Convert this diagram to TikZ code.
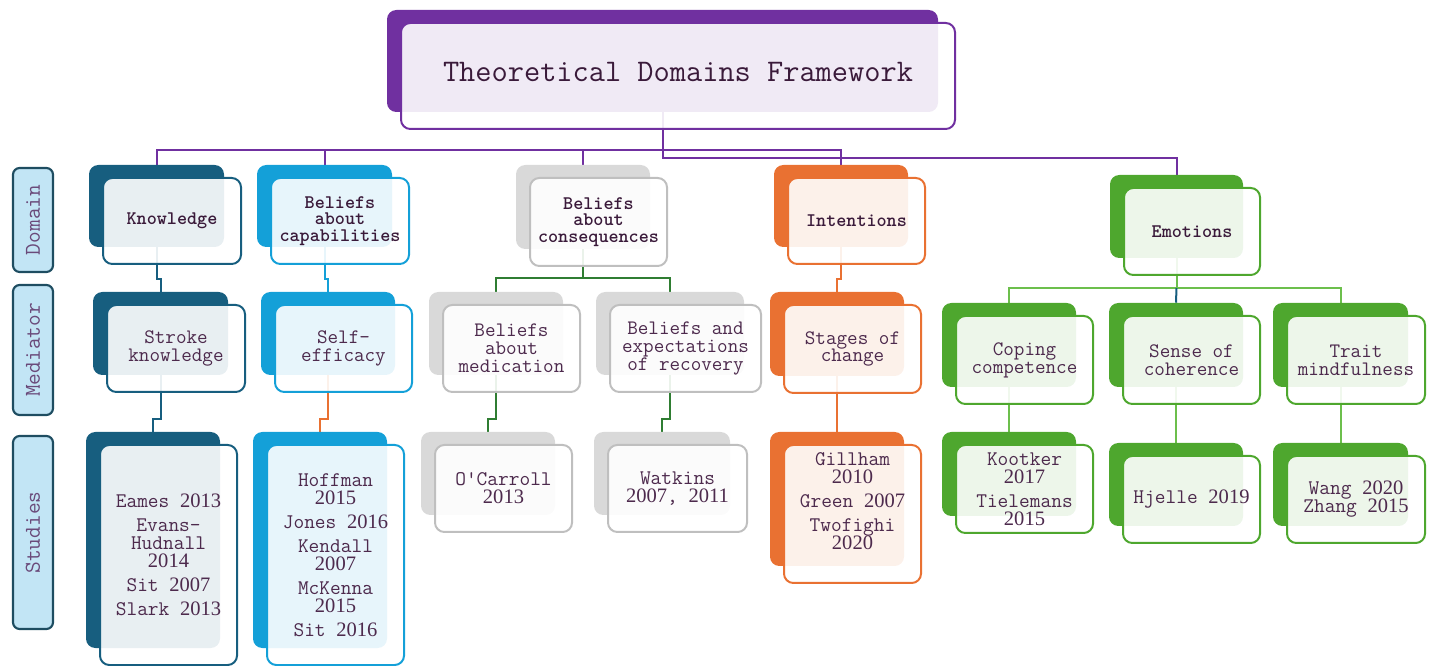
\documentclass[tikz,border=0pt]{standalone}
\usepackage{fontspec}
\newfontfamily\tnr{Liberation Serif}
\usetikzlibrary{calc}
\pgfdeclarelayer{bg}\pgfsetlayers{bg,main}
\definecolor{tdfpurple}{HTML}{7030A0}
\definecolor{kcol}{HTML}{175E7F}
\definecolor{ccol}{HTML}{14A0D8}
\definecolor{gback}{HTML}{D9D9D9}
\definecolor{gline}{HTML}{BFBFBF}
\definecolor{ocol}{HTML}{E97132}
\definecolor{grn}{HTML}{4EA72E}
\definecolor{dgreen}{HTML}{2F7D32}
\definecolor{lgreen}{HTML}{6CBF4C}
\definecolor{txt}{HTML}{4D2A4D}
\definecolor{dtxt}{HTML}{3A1A3A}
\definecolor{sidetxt}{HTML}{6A4A7A}
\definecolor{sidefill}{HTML}{C2E5F5}
\definecolor{sideline}{HTML}{1E4D61}
\newcommand\yr[1]{{\tnr\fontsize{15.4pt}{13.5pt}\selectfont #1}}
% [opts]{name}{back colour}{line colour}{x1}{y1}{x2}{y2}{text}
\newcommand\card[8][]{%
  \node[backbox=#3, minimum width={(#7-#5)*0.75pt}, minimum height={(#8-#6)*0.75pt}] (#2b) at ({(#5+#7)/2},{(#6+#8)/2}) {};
  \node[frontbox=#4, minimum width={(#7-#5+3)*0.75pt}, minimum height={(#8-#6+4)*0.75pt}, #1] (#2) at ({(#5+#7)/2+15.5},{(#6+#8)/2+15})}
\tikzset{
  backbox/.style={draw=none, fill=#1, rounded corners=7pt, inner sep=0pt},
  frontbox/.style={draw=#1, line width=1.5pt, fill=white, fill opacity=0.9, text opacity=1,
    rounded corners=7pt, inner sep=0pt, align=center, text=txt,
    font=\ttfamily\fontsize{14.6pt}{13.5pt}\selectfont},
  domfont/.style={font=\ttfamily\bfseries\fontsize{14.4pt}{12.4pt}\selectfont, text=dtxt},
  medfont/.style={font=\ttfamily\fontsize{15.4pt}{13.4pt}\selectfont},
  stufont/.style={font=\ttfamily\fontsize{15.6pt}{13.5pt}\selectfont},
  conn/.style={line width=1.5pt, draw=#1},
  sidelab/.style={draw=sideline, line width=1.6pt, fill=sidefill, rounded corners=5pt,
    rotate=90, text=sidetxt, font=\ttfamily\fontsize{17pt}{18pt}\selectfont, inner sep=0pt,
    minimum height=30pt}
}
\begin{document}
\lineskiplimit=-20pt
\begin{tikzpicture}[x=0.75pt,y=-0.75pt]
\useasboundingbox (0,0) rectangle (1429,666);
% side labels
\node[sidelab, minimum width={104*0.75pt}] (dom) at (33,220) {Domain};
\node[sidelab, minimum width={130*0.75pt}] (med) at (33,350) {Mediator};
\node[sidelab, minimum width={193*0.75pt}] (stu) at (33,532.5) {Studies};
% title
\card[font=\ttfamily\fontsize{23.6pt}{24pt}\selectfont, text=dtxt]{T}{tdfpurple}{tdfpurple}{387}{10}{938}{112}{Theoretical Domains Framework\rule[-6pt]{0pt}{0pt}};
% domains
\card[domfont]{K}{kcol}{kcol}{89}{165}{224}{247}{Knowledge};
\card[domfont]{BC}{ccol}{ccol}{257}{165}{392}{247}{Beliefs\\about\\capabilities};
\card[domfont]{BQ}{gback}{gline}{516}{165}{650}{249}{Beliefs\\about\\consequences};
\card[domfont]{I}{ocol}{ocol}{774}{165}{908}{247}{Intentions};
\card[domfont]{E}{grn}{grn}{1110}{175}{1243}{258}{Emotions};
% mediators
\card[medfont]{SK}{kcol}{kcol}{93}{292}{228}{375}{Stroke\\knowledge};
\card[medfont]{SE}{ccol}{ccol}{261}{292}{395}{375}{Self-\\efficacy};
\card[medfont]{BM}{gback}{gline}{429}{292}{563}{375}{Beliefs\\about\\medication};
\card[medfont]{BE}{gback}{gline}{596}{292}{744}{375}{Beliefs and\\expectations\\of recovery};
\card[medfont]{SC}{ocol}{ocol}{770}{292}{904}{376}{Stages of\\change};
\card[medfont]{CC}{grn}{grn}{942}{303}{1076}{387}{Coping\\competence};
\card[medfont]{SOC}{grn}{grn}{1109}{303}{1243}{387}{Sense of\\coherence};
\card[medfont]{TM}{grn}{grn}{1273}{303}{1408}{387}{Trait\\mindfulness};
% studies
\card[stufont]{SA}{kcol}{kcol}{86}{432}{220}{648}{Eames \yr{2013}\\[4.5pt]Evans-\\Hudnall\\\yr{2014}\\[4.5pt]Sit \yr{2007}\\[4.5pt]Slark \yr{2013}};
\card[stufont]{SB}{ccol}{ccol}{253}{432}{387}{648}{Hoffman\\\yr{2015}\\[4.5pt]Jones \yr{2016}\\[4.5pt]Kendall\\\yr{2007}\\[4.5pt]McKenna\\\yr{2015}\\[4.5pt]Sit \yr{2016}};
\card[stufont]{SCa}{gback}{gline}{421}{432}{555}{515}{O'Carroll\\\yr{2013}};
\card[stufont]{SD}{gback}{gline}{594}{432}{730}{515}{Watkins\\\yr{2007}, \yr{2011}};
\card[stufont]{SF}{ocol}{ocol}{770}{432}{904}{566}{Gillham\\\yr{2010}\\[4.5pt]Green \yr{2007}\\[4.5pt]Twofighi\\\yr{2020}\\[6pt]\mbox{}};
\card[stufont]{SG}{grn}{grn}{942}{432}{1076}{516}{Kootker\\\yr{2017}\\[4.5pt]Tielemans\\\yr{2015}};
\card[stufont]{SH}{grn}{grn}{1109}{443}{1243}{526}{Hjelle \yr{2019}};
\card[stufont]{SI}{grn}{grn}{1273}{443}{1408}{526}{Wang \yr{2020}\\Zhang \yr{2015}};
% connectors on background layer
\begin{pgfonlayer}{bg}
\draw[conn=tdfpurple] (Tb.center) -- (Tb.center |- 0,158) -| (Eb.north);
\draw[conn=tdfpurple] (Kb.north) -- (Kb.north |- 0,150) -- (Ib.north |- 0,150) -- (Ib.north);
\draw[conn=tdfpurple] (BCb.north) -- (BCb.north |- 0,150);
\draw[conn=tdfpurple] (BQb.north) -- (BQb.north |- 0,150);
\draw[conn=kcol] (Kb.center) |- (SKb.north |- 0,279) -- (SKb.north);
\draw[conn=ccol] (BCb.center) |- (SEb.north |- 0,279) -- (SEb.north);
\draw[conn=dgreen] (BQb.center) -- (BQb.center |- 0,278);
\draw[conn=dgreen] (BMb.north) -- (BMb.north |- 0,278) -- (BEb.north |- 0,278) -- (BEb.north);
\draw[conn=ocol] (Ib.center) |- (SCb.north |- 0,279) -- (SCb.north);
\draw[conn=lgreen] (Eb.center) -- (Eb.center |- 0,288);
\draw[conn=lgreen] (CCb.north) -- (CCb.north |- 0,288) -- (TMb.north |- 0,288) -- (TMb.north);
\draw[conn=kcol] (Eb.center |- 0,288) -- (SOCb.north);
\draw[conn=kcol] (SKb.center) |- (SAb.north |- 0,419) -- (SAb.north);
\draw[conn=ocol] (SEb.center) |- (SBb.north |- 0,419) -- (SBb.north);
\draw[conn=dgreen] (BMb.center) |- (SCab.north |- 0,419) -- (SCab.north);
\draw[conn=dgreen] (BEb.center) |- (SDb.north |- 0,419) -- (SDb.north);
\draw[conn=ocol] (SCb.center) -- (SFb.north);
\draw[conn=lgreen] (CCb.center) -- (SGb.north);
\draw[conn=lgreen] (SOCb.center) -- (SHb.north);
\draw[conn=lgreen] (TMb.center) -- (SIb.north);
\end{pgfonlayer}
\end{tikzpicture}
\end{document}
